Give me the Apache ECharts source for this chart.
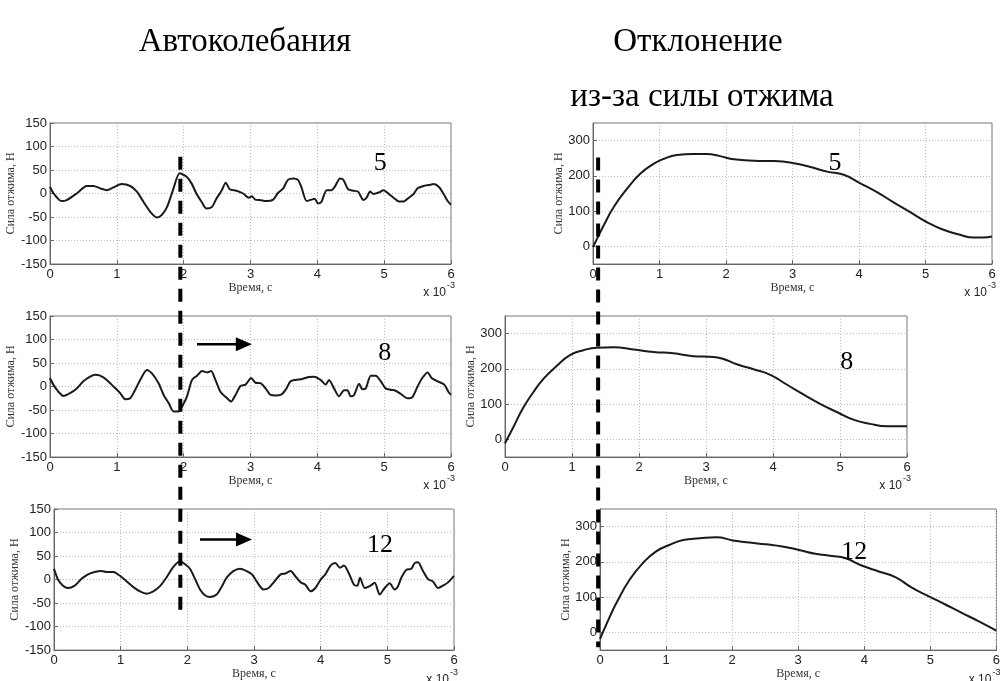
<!DOCTYPE html>
<html><head><meta charset="utf-8">
<script src="https://cdn.jsdelivr.net/npm/echarts@6/dist/echarts.min.js"></script>
<style>html,body{margin:0;padding:0;background:#fff}#c{width:1003px;height:681px}</style>
</head><body><div id="c"></div><script>
// ---- data (time in units of 1e-3 s, force in N) ----
const xTickValues = [0, 1, 2, 3, 4, 5, 6];
const leftYTicks = [-150, -100, -50, 0, 50, 100, 150];
const rightYTicks = [0, 100, 200, 300];

const auto5 = [[0,14],[0.05,1],[0.17,-16],[0.25,-14],[0.4,0],[0.55,16],[0.65,16],[0.75,11],[0.85,7],[0.95,13],[1.07,20],[1.2,16],[1.3,4],[1.4,-18],[1.5,-39],[1.6,-51],[1.67,-46],[1.75,-29],[1.84,7],[1.94,43],[2.04,36],[2.12,21],[2.19,0],[2.27,-18],[2.34,-32],[2.42,-29],[2.49,-11],[2.57,7],[2.63,23],[2.69,9],[2.79,6],[2.89,0],[2.97,-9],[3.02,-6],[3.07,-13],[3.14,-14],[3.24,-16],[3.34,-13],[3.41,1],[3.49,11],[3.56,29],[3.64,32],[3.71,29],[3.76,14],[3.84,-16],[3.91,-13],[3.96,-11],[4.01,-21],[4.06,-18],[4.14,7],[4.21,7],[4.26,14],[4.34,32],[4.39,29],[4.46,9],[4.54,6],[4.61,4],[4.69,-14],[4.74,-8],[4.79,4],[4.84,-1],[4.92,2],[4.99,7],[5.07,-1],[5.14,-9],[5.22,-17],[5.29,-17],[5.37,-9],[5.44,-1],[5.5,11],[5.59,16],[5.67,18],[5.74,20],[5.82,14],[5.89,-1],[5.95,-16],[6.0,-24]];

const auto8 = [[0,18],[0.05,4],[0.125,-11],[0.2,-20],[0.3,-14],[0.4,-4],[0.5,11],[0.6,21],[0.675,25],[0.75,23],[0.85,14],[0.95,0],[1.05,-14],[1.125,-27],[1.2,-25],[1.275,-7],[1.35,14],[1.45,35],[1.525,28],[1.625,7],[1.7,-18],[1.775,-35],[1.85,-53],[1.925,-53],[1.99,-39],[2.05,-21],[2.125,14],[2.2,23],[2.275,33],[2.35,30],[2.41,33],[2.475,14],[2.55,-11],[2.65,-25],[2.71,-32],[2.775,-18],[2.85,1],[2.925,4],[3.01,18],[3.075,8],[3.15,7],[3.225,-4],[3.3,-18],[3.375,-19],[3.45,-18],[3.525,-7],[3.6,11],[3.675,14],[3.775,16],[3.875,20],[3.95,21],[4.05,14],[4.125,4],[4.175,14],[4.25,-4],[4.325,-21],[4.4,-8],[4.45,-8],[4.5,-21],[4.55,-18],[4.625,6],[4.675,-6],[4.725,-4],[4.8,23],[4.875,23],[4.95,11],[5.02,-4],[5.1,-7],[5.17,-9],[5.25,-16],[5.35,-25],[5.42,-23],[5.5,0],[5.57,18],[5.65,30],[5.71,18],[5.8,11],[5.9,4],[5.96,-11],[6.0,-18]];

const auto12 = [[0,23],[0.06,0],[0.135,-13],[0.21,-18],[0.31,-13],[0.41,1],[0.51,11],[0.61,16],[0.71,18],[0.79,16],[0.89,16],[0.99,8],[1.09,-4],[1.19,-16],[1.29,-25],[1.39,-30],[1.49,-25],[1.59,-14],[1.69,5],[1.79,27],[1.89,39],[1.97,32],[2.04,23],[2.12,0],[2.19,-21],[2.27,-34],[2.34,-37],[2.44,-32],[2.52,-14],[2.59,4],[2.69,18],[2.79,23],[2.89,18],[2.97,11],[3.04,-4],[3.14,-21],[3.22,-18],[3.29,-7],[3.4,11],[3.47,13],[3.55,18],[3.62,7],[3.7,-6],[3.77,-11],[3.85,-25],[3.92,-18],[4.0,0],[4.07,11],[4.15,30],[4.22,35],[4.29,25],[4.35,30],[4.42,14],[4.5,-11],[4.55,-13],[4.59,4],[4.66,-18],[4.735,-14],[4.81,-7],[4.885,-32],[4.96,-18],[5.035,-8],[5.11,-21],[5.16,-14],[5.21,4],[5.285,21],[5.36,23],[5.41,35],[5.46,37],[5.535,18],[5.61,1],[5.685,-4],[5.76,-18],[5.835,-13],[5.91,-6],[6.0,8]];

const dev5 = [[0,-2],[0.16,59],[0.31,111],[0.51,163],[0.71,206],[0.91,234],[1.06,248],[1.26,259],[1.51,262],[1.71,262],[1.91,256],[2.12,247],[2.42,243],[2.72,242],[3.02,236],[3.27,225],[3.52,212],[3.77,203],[4.02,179],[4.27,154],[4.52,125],[4.77,97],[5.02,69],[5.27,47],[5.52,33],[5.72,25],[5.87,25],[6.0,28]];

const dev8 = [[0,-11],[0.12,33],[0.27,89],[0.42,133],[0.57,171],[0.77,208],[0.97,239],[1.17,253],[1.37,260],[1.62,261],[1.92,255],[2.22,248],[2.51,244],[2.81,236],[3.11,234],[3.26,228],[3.46,213],[3.71,199],[3.96,183],[4.21,155],[4.46,127],[4.71,100],[4.96,77],[5.2,56],[5.45,44],[5.7,37],[6.0,37]];

const dev12 = [[0,-19],[0.13,37],[0.25,84],[0.45,150],[0.65,197],[0.85,230],[1.05,248],[1.26,262],[1.51,267],[1.76,270],[2.01,261],[2.26,255],[2.51,250],[2.76,244],[3.01,234],[3.26,223],[3.51,217],[3.71,211],[3.97,189],[4.22,173],[4.47,157],[4.72,127],[4.97,103],[5.22,80],[5.47,56],[5.72,33],[6.0,5]];

const curveLabels = ['5', '8', '12', '5', '8', '12'];
const titles = ['Автоколебания', 'Отклонение', 'из-за силы отжима'];
const xName = 'Время, с';
const yName = 'Сила отжима, Н';

// ---- layout ----
const grids = [
  {left: 50, top: 123, width: 401, height: 141},
  {left: 50, top: 316, width: 401, height: 141},
  {left: 54, top: 509, width: 400, height: 142},
  {left: 593, top: 123, width: 399, height: 141},
  {left: 505, top: 316, width: 402, height: 141},
  {left: 600, top: 509, width: 398, height: 142}
];
const seriesData = [auto5, auto8, auto12, dev5, dev8, dev12];
const labelPos = [[4.94, 65], [5.01, 71], [4.89, 74], [3.64, 235], [5.1, 218], [3.85, 229]];
const yNameGaps = [29, 29, 28, 24, 24, 24];

const serif = 'Liberation Serif';
const sans = 'Liberation Sans';

const chart = echarts.init(document.getElementById('c'), null, {renderer: 'canvas'});

const xAxes = grids.map((g, i) => ({
  type: 'value', gridIndex: i, min: 0, max: 6, interval: 1,
  axisLine: {show: true, onZero: false, lineStyle: {color: '#666', width: 1}},
  axisTick: {show: true, inside: true, length: 4, lineStyle: {color: '#666'}},
  axisLabel: {fontFamily: sans, fontSize: 13, color: '#222', margin: 4},
  splitLine: {show: true, lineStyle: {type: [1, 2], color: '#bbb', width: 1}},
  name: xName, nameLocation: 'middle', nameGap: 15,
  nameTextStyle: {fontFamily: serif, fontSize: 12, color: '#333'}
}));

const yAxes = grids.map((g, i) => {
  const left = i < 3;
  return {
    type: 'value', gridIndex: i,
    min: left ? -150 : -50, max: left ? 150 : 350, interval: 50,
    axisLine: {show: true, onZero: false, lineStyle: {color: '#666', width: 1}},
    axisTick: left ? {show: true, inside: true, length: 4, lineStyle: {color: '#666'}}
                   : {show: true, inside: true, length: 4, lineStyle: {color: '#666'}, customValues: rightYTicks},
    axisLabel: left ? {fontFamily: sans, fontSize: 13, color: '#222', margin: 3}
                    : {fontFamily: sans, fontSize: 13, color: '#222', margin: 3, customValues: rightYTicks},
    splitLine: {show: true, lineStyle: {type: [1, 2], color: '#bbb', width: 1}},
    name: yName, nameLocation: 'middle', nameGap: yNameGaps[i],
    nameTextStyle: {fontFamily: serif, fontSize: 12, color: '#333'}
  };
});

const series = seriesData.map((d, i) => ({
  type: 'line', xAxisIndex: i, yAxisIndex: i, data: d,
  showSymbol: false, symbol: 'none', smooth: i < 3 ? 0.25 : 0.5,
  lineStyle: {color: '#1a1a1a', width: 2}, silent: true, animation: false, z: 3
}));

chart.setOption({
  animation: false,
  backgroundColor: '#fff',
  grid: grids.map(g => Object.assign({show: true, borderColor: '#777', borderWidth: 1, backgroundColor: 'transparent', containLabel: false}, g)),
  xAxis: xAxes, yAxis: yAxes, series: series
});

// ---- annotations positioned through the axes ----
function px(gi, x, y) { return chart.convertToPixel({gridIndex: gi}, [x, y]); }

const graphics = [];
const titleFont = '33px "' + serif + '"';
graphics.push({type: 'text', x: 245, y: 42, style: {text: titles[0], font: titleFont, fill: '#000', align: 'center', verticalAlign: 'middle'}});
graphics.push({type: 'text', x: 698, y: 42, style: {text: titles[1], font: titleFont, fill: '#000', align: 'center', verticalAlign: 'middle'}});
graphics.push({type: 'text', x: 702, y: 97, style: {text: titles[2], font: titleFont, fill: '#000', align: 'center', verticalAlign: 'middle'}});

// curve labels and x10^-3 exponent labels
grids.forEach((g, i) => {
  const p = px(i, labelPos[i][0], labelPos[i][1]);
  graphics.push({type: 'text', x: p[0], y: p[1], z: 10, style: {text: curveLabels[i], font: '26px "' + serif + '"', fill: '#000', align: 'center', verticalAlign: 'middle'}});
  const r = px(i, 6, 0)[0];
  const b = g.top + g.height;
  graphics.push({type: 'text', x: r + 4, y: b + 26, z: 10, style: {
    text: '{a|x 10}{s|-3}', align: 'right', verticalAlign: 'middle',
    rich: {a: {fontFamily: sans, fontSize: 12, fill: '#222', verticalAlign: 'bottom'},
           s: {fontFamily: sans, fontSize: 9, fill: '#222', verticalAlign: 'top', padding: [0, 0, 8, 1]}}
  }});
});

// arrows in the lower two left panels
function arrow(gi, x0, x1, y) {
  const a = px(gi, x0, y), b = px(gi, x1, y);
  graphics.push({type: 'line', z: 10, shape: {x1: a[0], y1: a[1], x2: b[0] - 14, y2: b[1]}, style: {stroke: '#000', lineWidth: 2.5}});
  graphics.push({type: 'polygon', z: 10, shape: {points: [[b[0], b[1]], [b[0] - 16, b[1] - 7], [b[0] - 16, b[1] + 7]]}, style: {fill: '#000'}});
}
arrow(1, 2.2, 3.02, 90);
arrow(2, 2.19, 2.97, 85);

// dashed vertical markers
const lt = px(0, 1.95, 78), lb = px(2, 1.89, -68);
graphics.push({type: 'line', z: 20, shape: {x1: lt[0], y1: lt[1], x2: lt[0], y2: lb[1]}, style: {stroke: '#000', lineWidth: 4, lineDash: [13, 9]}});
const rx = px(4, 1.39, 0)[0];
const rt = px(3, 0, 252)[1], rb = px(5, 0, -42)[1];
graphics.push({type: 'line', z: 20, shape: {x1: rx, y1: rt, x2: rx, y2: rb}, style: {stroke: '#000', lineWidth: 4, lineDash: [13, 9]}});

chart.setOption({graphic: graphics});
</script></body></html>
